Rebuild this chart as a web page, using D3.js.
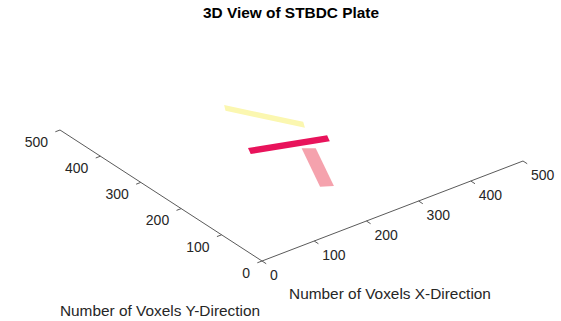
<!DOCTYPE html>
<html>
<head>
<meta charset="utf-8">
<script src="https://cdn.jsdelivr.net/npm/d3@7"></script>
<style>
  html, body { margin: 0; padding: 0; background: #fff; }
  svg { display: block; font-family: "Liberation Sans", Arial, Helvetica, sans-serif; }
</style>
</head>
<body>
<svg id="chart" width="561" height="321"></svg>
<script>
// Axis ticks (voxels)
const xTicks = [0, 100, 200, 300, 400, 500];
const yTicks = [0, 100, 200, 300, 400, 500];

// Plate regions: corner coordinates in voxel units (x, y) on the plate plane
const regionNames  = ["upper strip", "cross bar", "stem"];
const regionColors = ["#fbf7b0", "#e8135b", "#f5a2ad"];
const upperStripX = [244, 235, 299, 308];
const upperStripY = [409, 394, 280, 296];
const crossBarX   = [193, 185, 304, 312];
const crossBarY   = [284, 267, 225, 242];
const stemX       = [257, 274, 226, 208];
const stemY       = [234, 221, 114, 125];

const regions = [
  { name: regionNames[0], color: regionColors[0], xs: upperStripX, ys: upperStripY },
  { name: regionNames[1], color: regionColors[1], xs: crossBarX,   ys: crossBarY },
  { name: regionNames[2], color: regionColors[2], xs: stemX,       ys: stemY }
];

const svg = d3.select("#chart");

// Oblique 3D view: each data axis maps to a screen displacement vector
const origin = [262, 261];
const xDir = d3.scaleLinear().domain([0, 500]).range([[0, 0], [261, -100]]);
const yDir = d3.scaleLinear().domain([0, 500]).range([[0, 0], [-202, -131]]);
const project = (x, y) => {
  const a = xDir(x), b = yDir(y);
  return [origin[0] + a[0] + b[0], origin[1] + a[1] + b[1]];
};
const unit = v => { const l = Math.hypot(v[0], v[1]); return [v[0] / l, v[1] / l]; };
const ux = unit(xDir(500));
const uy = unit(yDir(500));

const defs = svg.append("defs");
defs.append("filter").attr("id", "soft")
  .append("feGaussianBlur").attr("stdDeviation", 0.7);

// Plate regions
svg.append("g").selectAll("path")
  .data(regions)
  .join("path")
  .attr("d", r => d3.line()(r.xs.map((x, i) => project(x, r.ys[i]))) + "Z")
  .attr("fill", d => d.color)
  .attr("filter", (d, i) => i === 0 ? "url(#soft)" : null);

const axisColor = "#5a5a5a";
const textColor = "#262626";
const tickLen = 5;

// Y axis
const gy = svg.append("g");
gy.append("line")
  .attr("x1", project(0, 0)[0]).attr("y1", project(0, 0)[1])
  .attr("x2", project(0, 500)[0]).attr("y2", project(0, 500)[1])
  .attr("stroke", axisColor).attr("stroke-width", 1);
gy.selectAll("line.tick").data(yTicks).join("line").attr("class", "tick")
  .attr("x1", d => project(0, d)[0]).attr("y1", d => project(0, d)[1])
  .attr("x2", d => project(0, d)[0] - ux[0] * tickLen)
  .attr("y2", d => project(0, d)[1] - ux[1] * tickLen)
  .attr("stroke", axisColor).attr("stroke-width", 1);
gy.selectAll("text").data(yTicks).join("text")
  .attr("x", d => project(0, d)[0] - 12)
  .attr("y", d => project(0, d)[1] + 13)
  .attr("text-anchor", "end").attr("dominant-baseline", "middle")
  .attr("font-size", 14).attr("fill", textColor)
  .text(d => d);

// X axis
const gx = svg.append("g");
gx.append("line")
  .attr("x1", project(0, 0)[0]).attr("y1", project(0, 0)[1])
  .attr("x2", project(500, 0)[0]).attr("y2", project(500, 0)[1])
  .attr("stroke", axisColor).attr("stroke-width", 1);
gx.selectAll("line.tick").data(xTicks).join("line").attr("class", "tick")
  .attr("x1", d => project(d, 0)[0]).attr("y1", d => project(d, 0)[1])
  .attr("x2", d => project(d, 0)[0] - uy[0] * tickLen)
  .attr("y2", d => project(d, 0)[1] - uy[1] * tickLen)
  .attr("stroke", axisColor).attr("stroke-width", 1);
gx.selectAll("text").data(xTicks).join("text")
  .attr("x", d => project(d, 0)[0] + 8)
  .attr("y", d => project(d, 0)[1] + 15)
  .attr("text-anchor", "start").attr("dominant-baseline", "middle")
  .attr("font-size", 14).attr("fill", textColor)
  .text(d => d);

// Axis titles
svg.append("text")
  .attr("x", 160).attr("y", 312)
  .attr("text-anchor", "middle").attr("dominant-baseline", "middle")
  .attr("font-size", 15.4).attr("fill", textColor)
  .text("Number of Voxels Y-Direction");
svg.append("text")
  .attr("x", 390).attr("y", 295)
  .attr("text-anchor", "middle").attr("dominant-baseline", "middle")
  .attr("font-size", 15.4).attr("fill", textColor)
  .text("Number of Voxels X-Direction");

// Chart title
svg.append("text")
  .attr("x", 291).attr("y", 14)
  .attr("text-anchor", "middle").attr("dominant-baseline", "middle")
  .attr("font-size", 15.4).attr("font-weight", "bold").attr("fill", "#000")
  .text("3D View of STBDC Plate");
</script>
</body>
</html>
